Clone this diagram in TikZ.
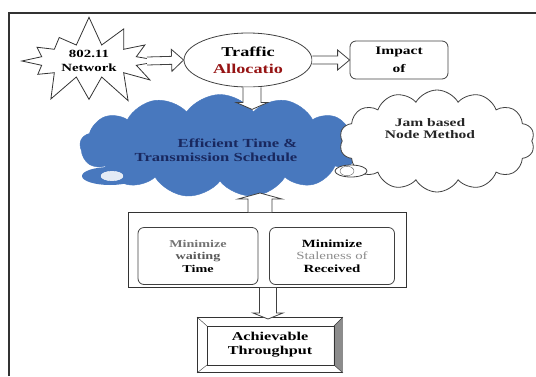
\documentclass[tikz,border=0pt]{standalone}
\usepackage{fontspec}
\setmainfont{Liberation Serif}
\newfontfamily\wideserif[FakeStretch=1.35]{Liberation Serif}
\usepackage{tikz}
\usetikzlibrary{calc}
\usetikzlibrary{shapes.geometric}
\usetikzlibrary{shapes.symbols}
\usetikzlibrary{positioning}
\definecolor{cloudblue}{RGB}{72,120,190}
\definecolor{textblue}{RGB}{25,40,95}
\definecolor{darkred}{RGB}{150,20,20}
\tikzset{txt/.style={font=\wideserif\bfseries\fontsize{11}{14}\selectfont, align=center, inner sep=1pt}}
\tikzset{blockarrow/.style={draw=black!75, thick, fill=white, line join=miter}}
\tikzset{rbox/.style={rectangle, rounded corners=6pt, draw=black!75, thick, txt}}
% block arrow: from, to, half shaft, half head, head length
\newcommand{\blockarr}[5]{%
  \coordinate (ba-h) at ($(#2)!#5!(#1)$);
  \draw[blockarrow] ($(#1)!#3!90:(#2)$) -- ($(ba-h)!#3!90:(#2)$) -- ($(ba-h)!#4!90:(#2)$) -- (#2)
     -- ($(ba-h)!#4!-90:(#2)$) -- ($(ba-h)!#3!-90:(#2)$) -- ($(#1)!#3!-90:(#2)$);
}

\begin{document}
\begin{tikzpicture}[x=1pt, y=-1pt]
\useasboundingbox (0,0) rectangle (536,376);
% frame
\draw[very thick, black!80] (9,376) -- (9,13) -- (536,13);
\node[starburst, starburst points=12, starburst point height=30pt, random starburst=7,
      draw=black!80, thick, minimum width=158pt, minimum height=76pt, txt] (net) at (89,61) {802.11\\Network};
\node[ellipse, draw=black!75, thick, minimum width=128pt, minimum height=54pt, txt,
      font=\wideserif\bfseries\fontsize{13.5}{17}\selectfont] (traf) at (248,60) {Traffic\\\textcolor{darkred}{Allocatio}};
\node[rbox, minimum width=98pt, minimum height=38pt, font=\wideserif\bfseries\fontsize{11.5}{18}\selectfont] (imp) at (399,60) {Impact\\of};
\node[cloud, cloud puffs=13, cloud puff arc=110, aspect=2.7, fill=cloudblue, draw=cloudblue,
      minimum width=280pt, minimum height=103pt] (sched) at (220,146) {};
\node[txt, align=right, text=textblue, font=\wideserif\bfseries\fontsize{12.3}{14}\selectfont] (schedt) at (216,150) {Efficient Time \&\\Transmission Schedule};
\node[ellipse, fill=cloudblue, draw=none, minimum width=56pt, minimum height=18pt] (sb) at (110,176) {};
\node[ellipse, fill=white!85!cloudblue, draw=white, minimum width=22pt, minimum height=8pt] (sb2) at (112,176) {};
\node[cloud, cloud puffs=14, cloud puff arc=120, aspect=1.9, draw=black!75, fill=white, thick,
      minimum width=195pt, minimum height=102pt] (jam) at (437,141) {};
\node[txt, text=black!85, font=\wideserif\bfseries\fontsize{11.5}{12}\selectfont] (jamt) at (430,129) {Jam based\\Node Method};
\node[ellipse, draw=black!75, thick, fill=white, minimum width=32pt, minimum height=12pt] (jb) at (351,171) {};
\node[ellipse, draw=black!60, minimum width=14pt, minimum height=6pt] (jb2) at (347,171) {};
%\node (tl) at (1,-0.4) {};
\node[rectangle, draw=black!80, thick, minimum width=278pt, minimum height=75pt] (minbox) at (267,250) {};
\node[rbox, minimum width=120pt, minimum height=57pt, font=\wideserif\bfseries\fontsize{10.5}{12.5}\selectfont] (mina) at (198,256) {\textcolor{black!55}{Minimize}\\\textcolor{black!65}{waiting}\\Time};
\node[rbox, minimum width=125pt, minimum height=57pt, font=\wideserif\bfseries\fontsize{11}{12.5}\selectfont] (minb) at (332,256) {Minimize\\\textcolor{black!45}{\mdseries Staleness of}\\Received};
\node[rectangle, draw=black!80, thick, minimum width=145pt, minimum height=55pt] (ach) at (270,345) {};
\fill[black!45] (ach.south east) -- (ach.north east) -- ($(ach.north east)+(-9,9)$) -- ($(ach.south east)+(-9,-8)$) -- cycle;
\draw[black!80] ($(ach.south west)+(10,-8)$) rectangle ($(ach.north east)+(-9,9)$);
\draw[black!80] (ach.north west) -- ($(ach.north west)+(10,9)$);
\draw[black!80] (ach.south west) -- ($(ach.south west)+(10,-8)$);
\draw[black!80] (ach.north east) -- ($(ach.north east)+(-9,9)$);
\draw[black!80] (ach.south east) -- ($(ach.south east)+(-9,-8)$);
\node[txt, font=\wideserif\bfseries\fontsize{12}{14}\selectfont] (acht) at (ach) {Achievable\\Throughput};

% connectors
\coordinate (netout) at ($(net.center)+(58,0)$);
\coordinate (schedin) at ($(traf.south)+(4,22)$);
\coordinate (schedout) at (260,193);
\coordinate (achin) at (268,319);
\blockarr{netout}{traf.west}{4pt}{11pt}{12pt}
\blockarr{traf.east}{imp.west}{4pt}{10pt}{12pt}
\blockarr{traf.south -| schedin}{schedin}{9pt}{16pt}{7pt}
\blockarr{minbox.north -| schedout}{schedout}{12pt}{22pt}{6pt}
\blockarr{minbox.south -| achin}{achin}{8.5pt}{15pt}{6pt}
\end{tikzpicture}
\end{document}
